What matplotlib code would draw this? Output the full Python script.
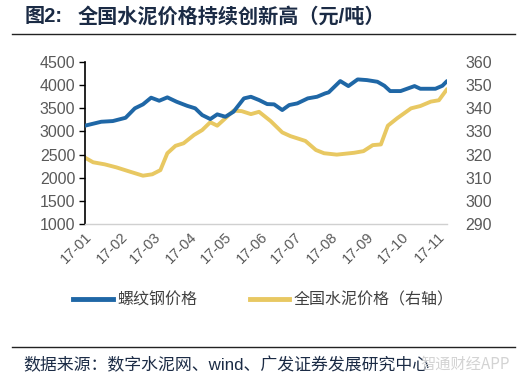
import matplotlib
matplotlib.use("Agg")
import matplotlib.pyplot as plt
import matplotlib.dates as mdates
from matplotlib.lines import Line2D
import pandas as pd

plt.rcParams['font.family'] = ['Liberation Sans', 'Noto Sans CJK SC', 'DejaVu Sans']

# ---- data ----
rebar_dates = ["2017-01-01", "2017-01-15", "2017-01-25", "2017-02-05", "2017-02-13", "2017-02-20",
               "2017-02-27", "2017-03-06", "2017-03-13", "2017-03-21", "2017-03-30", "2017-04-06",
               "2017-04-12", "2017-04-19", "2017-04-25", "2017-05-02", "2017-05-09", "2017-05-18",
               "2017-05-24", "2017-05-31", "2017-06-07", "2017-06-13", "2017-06-20", "2017-06-26",
               "2017-07-03", "2017-07-12", "2017-07-20", "2017-07-27", "2017-07-30", "2017-08-09",
               "2017-08-16", "2017-08-24", "2017-09-01", "2017-09-10", "2017-09-16", "2017-09-21",
               "2017-09-30", "2017-10-12", "2017-10-17", "2017-10-30", "2017-11-05", "2017-11-09"]
rebar_price = [3125, 3210, 3225, 3296, 3500, 3586, 3730, 3664, 3737, 3642, 3555, 3500,
               3355, 3268, 3370, 3318, 3426, 3715, 3750, 3679, 3592, 3586, 3463, 3571,
               3607, 3715, 3750, 3823, 3845, 4089, 3981, 4125, 4110, 4074, 3988, 3873,
               3873, 3981, 3923, 3923, 3988, 4089]

cement_dates = ["2017-01-01", "2017-01-08", "2017-01-18", "2017-01-28", "2017-02-09", "2017-02-20",
                "2017-02-28", "2017-03-07", "2017-03-13", "2017-03-20", "2017-03-27", "2017-04-05",
                "2017-04-12", "2017-04-19", "2017-04-25", "2017-05-02", "2017-05-09", "2017-05-16",
                "2017-05-24", "2017-05-31", "2017-06-10", "2017-06-20", "2017-06-27", "2017-07-10",
                "2017-07-19", "2017-07-26", "2017-08-06", "2017-08-21", "2017-08-29", "2017-09-06",
                "2017-09-13", "2017-09-19", "2017-09-27", "2017-10-09", "2017-10-17", "2017-10-26",
                "2017-11-02", "2017-11-09"]
cement_price = [318.7, 316.7, 315.8, 314.5, 312.6, 310.9, 311.5, 313.3, 320.6, 323.8, 324.9, 328.5,
                330.6, 334.0, 332.5, 335.7, 339.0, 338.8, 337.5, 338.5, 334.5, 329.6, 328.0, 325.9,
                322.0, 320.6, 320.0, 320.8, 321.5, 324.1, 324.4, 332.5, 335.7, 340.0, 341.0, 342.9,
                343.5, 348.3]

tick_months = ["2017-01-01", "2017-02-01", "2017-03-01", "2017-04-01", "2017-05-01", "2017-06-01",
               "2017-07-01", "2017-08-01", "2017-09-01", "2017-10-01", "2017-11-01"]
left_ticks = [1000, 1500, 2000, 2500, 3000, 3500, 4000, 4500]
right_ticks = [290, 300, 310, 320, 330, 340, 350, 360]

title_prefix = "图2:"
title_main = "全国水泥价格持续创新高（元/吨）"
source = "数据来源：数字水泥网、wind、广发证券发展研究中心"
label_rebar = "螺纹钢价格"
label_cement = "全国水泥价格（右轴）"

BLUE = "#1F67A6"
YELLOW = "#E8C862"
NAVY = "#1B2B45"
GRAY = "#595959"

fig = plt.figure(figsize=(5.18, 3.83), dpi=100)
ax = fig.add_axes([0.164, 0.415, 0.699, 0.423])
ax2 = ax.twinx()

rd = pd.to_datetime(rebar_dates)
cd = pd.to_datetime(cement_dates)
ax.plot(rd, rebar_price, color=BLUE, lw=2.8, solid_capstyle='round', zorder=3)
ax2.plot(cd, cement_price, color=YELLOW, lw=2.8, solid_capstyle='round', zorder=2)
ax.set_zorder(ax2.get_zorder() + 1)
ax.patch.set_visible(False)

ax.set_ylim(1000, 4500)
ax2.set_ylim(290, 360)
ax.set_yticks(left_ticks)
ax2.set_yticks(right_ticks)
ax.set_xlim(pd.Timestamp("2017-01-01"), pd.Timestamp("2017-11-09"))
ax.set_xticks(pd.to_datetime(tick_months))
ax.xaxis.set_major_formatter(mdates.DateFormatter("%y-%m"))

for a in (ax, ax2):
    for s in ('top', 'right'):
        a.spines[s].set_visible(False)
ax2.spines['left'].set_visible(False)
ax2.spines['bottom'].set_visible(False)
ax.spines['left'].set_color('black')
ax.spines['left'].set_linewidth(1.2)
ax.spines['bottom'].set_color('#D0D0D0')
ax.spines['bottom'].set_linewidth(1.0)

ax.tick_params(axis='y', direction='out', length=4, width=1.0, color='black',
               labelsize=11.5, labelcolor=GRAY, pad=3)
ax2.tick_params(axis='y', length=0, labelsize=11.5, labelcolor=GRAY, pad=13)
ax.tick_params(axis='x', length=0, labelsize=10.5, labelcolor=GRAY, pad=4)
for lbl in ax.get_xticklabels():
    lbl.set_rotation(45)
    lbl.set_ha('right')
    lbl.set_va('top')
    lbl.set_rotation_mode('anchor')

handles = [Line2D([], [], color=BLUE, lw=3.5), Line2D([], [], color=YELLOW, lw=3.5)]
fig.legend(handles, [label_rebar, label_cement], loc='center', bbox_to_anchor=(0.509, 0.217),
           ncol=2, frameon=False, handlelength=2.45, handletextpad=0.3,
           columnspacing=3.3, labelcolor='#404040',
           prop={'family': ['Noto Sans CJK SC'], 'size': 11.5})

fig.text(0.048, 0.957, title_prefix, fontsize=14.5, fontweight='bold', color=NAVY,
         va='center', ha='left', family=['Liberation Sans', 'Noto Sans CJK SC'])
fig.text(0.150, 0.957, title_main, fontsize=14.5, fontweight='bold', color=NAVY,
         va='center', ha='left', family=['Liberation Sans', 'Noto Sans CJK SC'])
fig.add_artist(Line2D([0.023, 0.995], [0.911, 0.911], color='#222222', lw=1.0))
fig.add_artist(Line2D([0.023, 0.995], [0.094, 0.094], color='#222222', lw=1.0))
fig.text(0.045, 0.047, source, fontsize=12.2, color=NAVY, va='center', ha='left',
         family=['Liberation Sans', 'Noto Sans CJK SC'])
fig.text(0.985, 0.05, "智通财经APP", fontsize=11, color='#C8C8C8', va='center', ha='right',
         family=['Noto Sans CJK SC'], alpha=0.8)

fig.savefig("out.png", dpi=100)
